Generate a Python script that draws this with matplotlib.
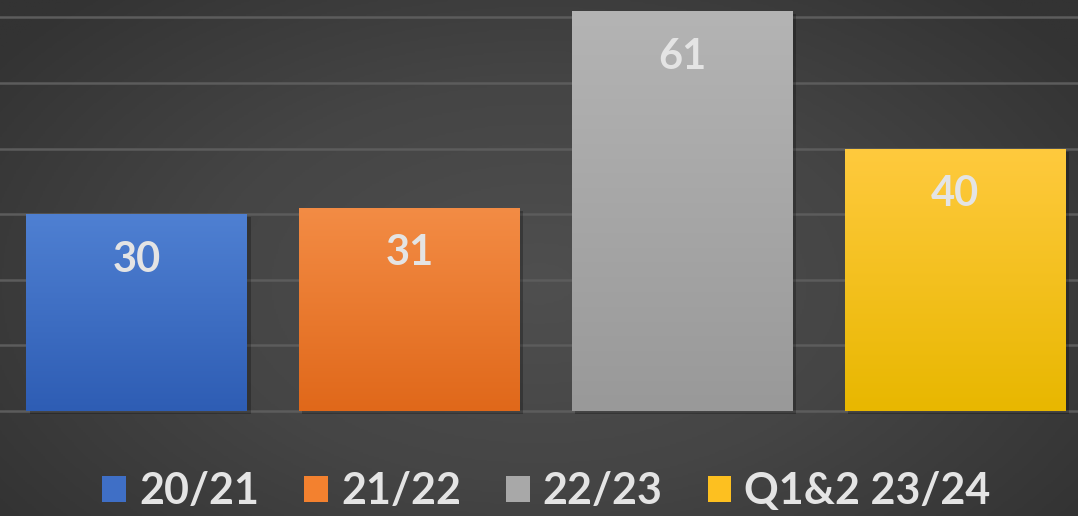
import numpy as np
import matplotlib.pyplot as plt
from matplotlib.colors import LinearSegmentedColormap
from matplotlib.patches import Patch

# Data
categories = ['20/21', '21/22', '22/23', 'Q1&2 23/24']
values = [30, 31, 61, 40]

# Bar colours (top / bottom of the vertical gradient) and legend swatches
top_colors = ['#4f80d2', '#f38c45', '#b4b4b4', '#ffca3e']
bottom_colors = ['#2e5db4', '#e0681a', '#999999', '#e8b700']
legend_colors = ['#3f6fc6', '#f3812f', '#a8a8a8', '#fdc020']

W, H = 1078, 516
fig = plt.figure(figsize=(W / 100, H / 100), dpi=100)

# Radial grey background
bg = fig.add_axes([0, 0, 1, 1])
yy, xx = np.mgrid[0:1:300j, 0:1:600j]
r = np.sqrt((xx - 0.5) ** 2 + ((yy - 0.45) * 0.8) ** 2)
bg_cmap = LinearSegmentedColormap.from_list('bg', ['#4f4f4f', '#454545', '#333333'])
bg.imshow(r, cmap=bg_cmap, extent=[0, 1, 0, 1], aspect='auto', origin='lower',
          vmin=0, vmax=0.62)
bg.axis('off')

# Main axes: baseline at 411 px from top, 6.56 px per unit
ax = fig.add_axes([0, 96 / H, 1, 420 / H])
ax.set_facecolor('none')
x = np.arange(len(categories))
width = 0.81

ax.set_yticks(range(0, 61, 10))
ax.yaxis.grid(True, color='#5c5c5c', lw=1.8)
ax.set_axisbelow(True)
ax.tick_params(left=False, bottom=False, labelleft=False, labelbottom=False)
for s in ax.spines.values():
    s.set_visible(False)

# Soft shadows
ax.bar(x + 0.012, values, width=width, bottom=-0.45, color='black', alpha=0.25,
       zorder=1.5, linewidth=0)

bars = ax.bar(x, values, width=width, color=bottom_colors, zorder=2, linewidth=0)
grad = np.linspace(0, 1, 256).reshape(-1, 1)
for bar, top, bot in zip(bars, top_colors, bottom_colors):
    cmap = LinearSegmentedColormap.from_list('g', [bot, top])
    x0, h = bar.get_x(), bar.get_height()
    im = ax.imshow(grad, cmap=cmap, extent=[x0, x0 + bar.get_width(), 0, h],
                   origin='lower', aspect='auto', zorder=2.1)
    im.set_clip_path(bar)

for xi, v in zip(x, values):
    ax.annotate(str(v), xy=(xi, v), xytext=(0, -33), textcoords='offset points',
                ha='center', va='center', fontsize=30, fontweight='bold',
                color='#e4e4e4', family='Lato', zorder=3)

ax.set_xlim(-0.502, 3.451)
ax.set_ylim(-1.37, 62.65)

handles = [Patch(facecolor=c, edgecolor='none') for c in legend_colors]
leg = fig.legend(handles, categories, loc='center', bbox_to_anchor=(0.507, 0.048),
                 ncol=4, frameon=False, handlelength=0.55, handleheight=0.55,
                 handletextpad=0.3, columnspacing=1.05,
                 prop={'family': 'Lato', 'weight': 'bold', 'size': 31})
for t in leg.get_texts():
    t.set_color('#e4e4e4')

fig.savefig('out.png', dpi=100)
